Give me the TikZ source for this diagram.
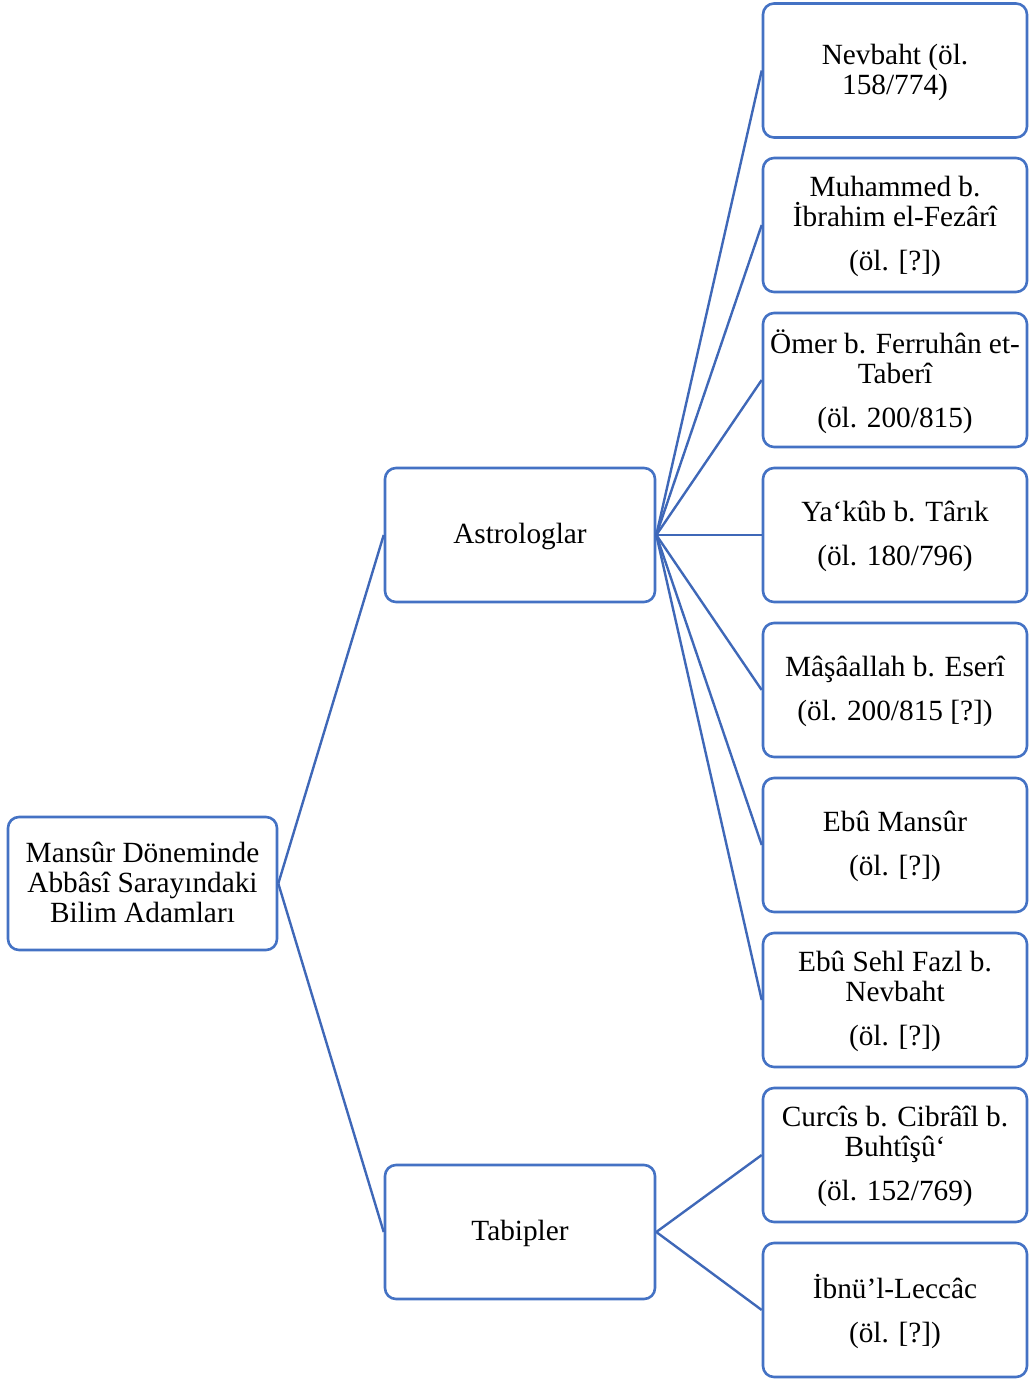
\documentclass[tikz,border=0pt]{standalone}
\usepackage{fontspec}
\setmainfont{Liberation Serif}
\definecolor{boxblue}{HTML}{4472C4}
\definecolor{linkblue}{HTML}{3F68B8}
\begin{document}
\begin{tikzpicture}[x=1pt,y=-1pt,
  card/.style={draw=boxblue, line width=2.6pt, rounded corners=11pt, fill=white,
    align=center, inner sep=0pt, font=\fontsize{29.3}{30}\selectfont,
    minimum height=134pt, text depth=3pt},
  leaf/.style={card, minimum width=264pt},
  mid/.style={card, minimum width=270pt},
  link/.style={draw=linkblue, line width=2.4pt}]
\useasboundingbox (0,0) rectangle (1028,1380);

% root
\node[card, minimum width=269pt, minimum height=133pt] (root) at (142.5,883.5)
  {Mansûr Döneminde\\Abbâsî Sarayındaki\\Bilim Adamları};

% second level
\node[mid] (astro) at (520,535) {Astrologlar};
\node[mid] (tabip) at (520,1232) {Tabipler};

% leaves
\node[leaf] (l1) at (895,70.5) {Nevbaht (öl.\\158/774)};
\node[leaf] (l2) at (895,225) {Muhammed b.\\İbrahim el-Fezârî\\[14pt](öl. [?])};
\node[leaf] (l3) at (895,380) {Ömer b. Ferruhân et-\\Taberî\\[14pt](öl. 200/815)};
\node[leaf] (l4) at (895,535) {Ya‘kûb b. Târık\\[14pt](öl. 180/796)};
\node[leaf] (l5) at (895,690) {Mâşâallah b. Eserî\\[14pt](öl. 200/815 [?])};
\node[leaf] (l6) at (895,845) {Ebû Mansûr\\[14pt](öl. [?])};
\node[leaf] (l7) at (895,1000) {Ebû Sehl Fazl b.\\Nevbaht\\[14pt](öl. [?])};
\node[leaf] (l8) at (895,1155) {Curcîs b. Cibrâîl b.\\Buhtîşû‘\\[14pt](öl. 152/769)};
\node[leaf] (l9) at (895,1310) {İbnü’l-Leccâc\\[14pt](öl. [?])};

% connectors
\draw[link] (root.east) -- (astro.west);
\draw[link] (root.east) -- (tabip.west);
\foreach \n in {l1,l2,l3,l4,l5,l6,l7}
  \draw[link] (astro.east) -- (\n.west);
\foreach \n in {l8,l9}
  \draw[link] (tabip.east) -- (\n.west);
\end{tikzpicture}
\end{document}
